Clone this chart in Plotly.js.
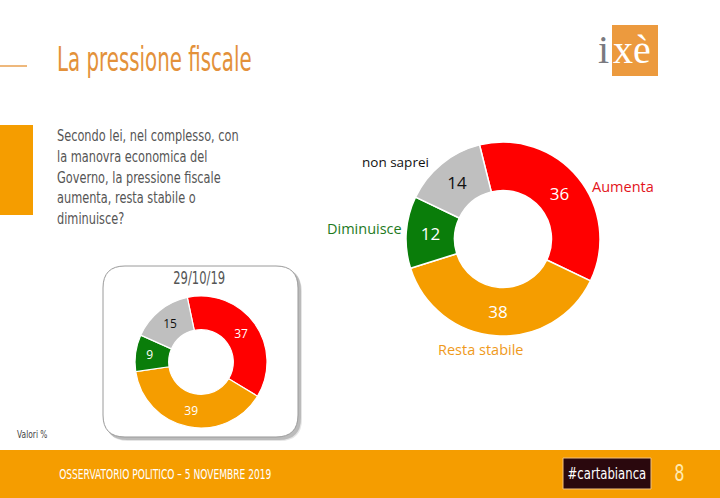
<!DOCTYPE html>
<html><head><meta charset="utf-8">
<script src="https://cdn.plot.ly/plotly-3.0.1.min.js"></script>
<style>html,body{margin:0;padding:0;background:#fff}#chart{width:720px;height:498px}</style>
</head><body><div id="chart"></div>
<script>
// ---- data ----
const categories = ['Aumenta', 'Resta stabile', 'Diminuisce', 'non saprei'];
const valuesNov = [36, 38, 12, 14];   // 5 novembre 2019
const valuesOct = [37, 39, 9, 15];    // 29/10/19
const previousLabel = '29/10/19';
const titleText = 'La pressione fiscale';
const questionText = 'Secondo lei, nel complesso, con<br>la manovra economica del<br>Governo, la pressione fiscale<br>aumenta, resta stabile o<br>diminuisce?';
const footerText = 'OSSERVATORIO POLITICO – 5 NOVEMBRE 2019';
const pageNumber = '8';

// ---- style ----
const W = 720, H = 498;
const px = x => x / W, py = y => 1 - y / H;
const sliceColors = ['#ff0000', '#f59d00', '#0a7d0a', '#bfbfbf'];
const valueColors = ['#ffffff', '#ffffff', '#ffffff', '#111111'];
const labelColors = ['#e3141b', '#ef9a1c', '#1e7a1e', '#111111'];
const labelPos = [[623, 186, 14.5], [480, 349, 14.5], [364, 229, 14.5], [395, 162, 13.5]];
const ORANGE = '#f59d00';
const SANS = '"DejaVu Sans", sans-serif';
const OPEN = '"Open Sans", sans-serif';

function roundRect(x0, y0, x1, y1, r) {
  const X = v => px(v).toFixed(5), Y = v => py(v).toFixed(5);
  return `M ${X(x0 + r)} ${Y(y0)} L ${X(x1 - r)} ${Y(y0)} Q ${X(x1)} ${Y(y0)} ${X(x1)} ${Y(y0 + r)} ` +
         `L ${X(x1)} ${Y(y1 - r)} Q ${X(x1)} ${Y(y1)} ${X(x1 - r)} ${Y(y1)} L ${X(x0 + r)} ${Y(y1)} ` +
         `Q ${X(x0)} ${Y(y1)} ${X(x0)} ${Y(y1 - r)} L ${X(x0)} ${Y(y0 + r)} Q ${X(x0)} ${Y(y0)} ${X(x0 + r)} ${Y(y0)} Z`;
}

const mainPie = {
  type: 'pie', labels: categories, values: valuesNov, sort: false, direction: 'clockwise',
  rotation: -14, hole: 0.5,
  domain: {x: [px(406), px(600)], y: [py(336), py(142)]},
  marker: {colors: sliceColors, line: {color: '#ffffff', width: 1.5}},
  textinfo: 'value', textposition: 'inside', insidetextorientation: 'horizontal',
  textfont: {family: OPEN, size: 17, color: valueColors},
  showlegend: false, hoverinfo: 'label+value'
};
const smallPie = {
  type: 'pie', labels: categories, values: valuesOct, sort: false, direction: 'clockwise',
  rotation: -12, hole: 0.49,
  domain: {x: [px(135), px(267)], y: [py(428), py(296)]},
  marker: {colors: sliceColors, line: {color: '#ffffff', width: 1.2}},
  textinfo: 'value', textposition: 'inside', insidetextorientation: 'horizontal',
  textfont: {family: OPEN, size: 12, color: valueColors},
  showlegend: false, hoverinfo: 'label+value'
};

const below = (s) => Object.assign({layer: 'below', xref: 'paper', yref: 'paper'}, s);
const shapes = [
  below({type: 'line', x0: px(0), x1: px(27), y0: py(66), y1: py(66), line: {color: '#e8a050', width: 1.5}}),
  below({type: 'rect', x0: px(0), x1: px(33), y0: py(215), y1: py(125), fillcolor: ORANGE, line: {width: 0}}),
  below({type: 'rect', x0: px(612), x1: px(658), y0: py(76), y1: py(25), fillcolor: '#ec9a3e', line: {width: 0}}),
  below({type: 'path', path: roundRect(106, 270, 302, 441, 22), fillcolor: 'rgba(0,0,0,0.10)', line: {width: 0}}),
  below({type: 'path', path: roundRect(105, 268, 301, 440, 22), fillcolor: 'rgba(0,0,0,0.18)', line: {width: 0}}),
  below({type: 'path', path: roundRect(103, 266, 298, 437, 22), fillcolor: '#ffffff', line: {color: '#9a9a9a', width: 1}}),
  below({type: 'rect', x0: 0, x1: 1, y0: 0, y1: py(450), fillcolor: ORANGE, line: {width: 0}}),
  below({type: 'rect', x0: px(563), x1: px(651), y0: py(489), y1: py(458), fillcolor: '#2a080d', line: {color: '#f0c080', width: 1}})
];

const ann = (x, y, text, font, xanchor = 'left', yanchor = 'middle', extra = {}) =>
  Object.assign({xref: 'paper', yref: 'paper', x: px(x), y: py(y), text, font, xanchor, yanchor, showarrow: false}, extra);

// [annotation, horizontal condense factor, origin]
const annSpecs = [
  [ann(55, 60, titleText, {family: SANS, size: 33, color: '#e3913a'}), 0.6, 'left'],
  [ann(55, 177, questionText, {family: SANS, size: 16, color: '#555555'}, 'left', 'middle', {align: 'left'}), 0.71, 'left'],
  [ann(199, 278, previousLabel, {family: SANS, size: 17, color: '#555555'}, 'center'), 0.68, 'center'],
  [ann(15, 434, 'Valori %', {family: SANS, size: 10, color: '#444444'}), 0.75, 'left'],
  [ann(57, 474, footerText, {family: SANS, size: 14, color: '#ffffff'}), 0.65, 'left'],
  [ann(607, 473, '#cartabianca', {family: SANS, size: 16, color: '#ffffff'}, 'center'), 0.73, 'center'],
  [ann(679, 473, pageNumber, {family: SANS, size: 23, color: '#ffeab0'}, 'center'), 0.7, 'center'],
  [ann(611, 49, 'i', {family: '"Liberation Serif", "DejaVu Serif", serif', size: 40, color: '#7a7a80'}, 'right'), 1, 'left'],
  [ann(611, 49, 'xè', {family: '"Liberation Serif", "DejaVu Serif", serif', size: 40, color: '#ffffff'}, 'left'), 1, 'left']
];
categories.forEach((c, i) => {
  annSpecs.push([ann(labelPos[i][0], labelPos[i][1], c,
    {family: OPEN, size: labelPos[i][2], color: labelColors[i]}, 'center'), 1, 'center']);
});
const annotations = annSpecs.map(s => s[0]);

const layout = {
  width: W, height: H, margin: {l: 0, r: 0, t: 0, b: 0},
  paper_bgcolor: '#ffffff', plot_bgcolor: '#ffffff',
  shapes, annotations, showlegend: false
};
Plotly.newPlot('chart', [mainPie, smallPie], layout, {displayModeBar: false, staticPlot: true}).then(() => {
  // emulate the condensed typeface of the slide for the text that uses it
  const groups = document.querySelectorAll('#chart g.annotation');
  groups.forEach((g, i) => {
    const spec = annSpecs[i];
    if (!spec || spec[1] === 1) return;
    const t = g.querySelector('text.annotation-text');
    if (!t) return;
    t.style.transformBox = 'fill-box';
    t.style.transformOrigin = spec[2] + ' center';
    t.style.transform = `scaleX(${spec[1]})`;
  });
});
</script></body></html>
